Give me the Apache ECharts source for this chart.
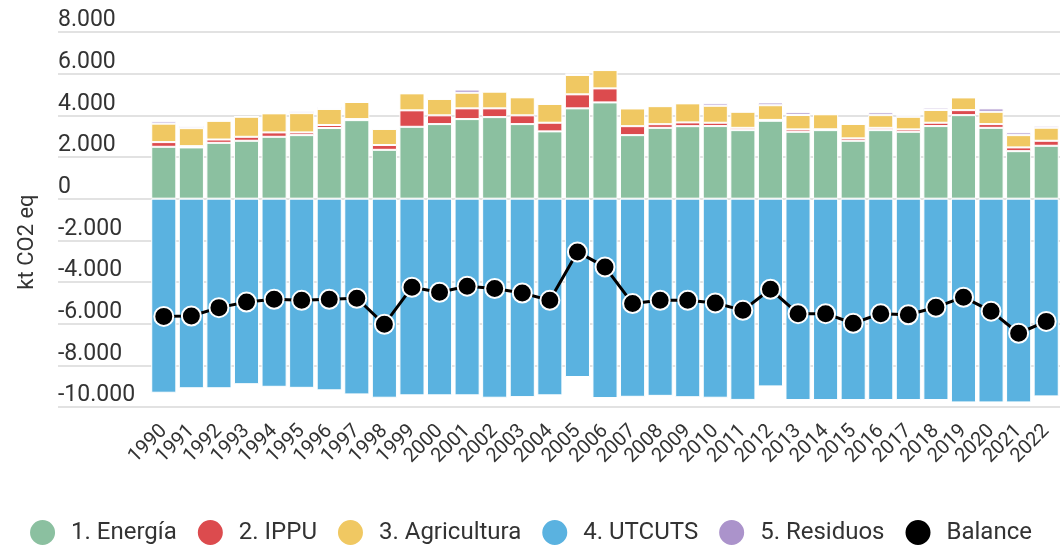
<!DOCTYPE html>
<html>
<head>
<meta charset="utf-8">
<script src="https://cdn.jsdelivr.net/npm/echarts@6/dist/echarts.min.js"></script>
<style>
html,body{margin:0;padding:0;background:#fff;}
#chart{width:1060px;height:550px;}
</style>
</head>
<body>
<div id="chart"></div>
<script>
const years = ['1990','1991','1992','1993','1994','1995','1996','1997','1998','1999','2000','2001','2002','2003','2004','2005','2006','2007','2008','2009','2010','2011','2012','2013','2014','2015','2016','2017','2018','2019','2020','2021','2022'];
const energia = [2490,2460,2680,2780,2970,3050,3390,3770,2345,3450,3580,3820,3915,3580,3230,4335,4620,3050,3400,3480,3485,3290,3740,3210,3290,2780,3290,3210,3485,4010,3400,2280,2540];
const ippu = [225,60,160,190,210,130,145,50,230,790,420,515,420,420,415,673,673,430,175,180,160,110,40,115,40,115,110,115,160,240,180,180,240];
const agricultura = [885,865,895,960,915,925,770,820,770,815,785,750,800,865,900,927,880,850,865,915,815,770,705,690,720,690,610,605,610,610,590,590,625];
const utcuts = [-9315,-9100,-9100,-8905,-9030,-9080,-9200,-9395,-9555,-9440,-9440,-9440,-9555,-9525,-9440,-8560,-9570,-9510,-9465,-9530,-9555,-9660,-9010,-9665,-9665,-9665,-9665,-9665,-9665,-9780,-9780,-9780,-9490];
const residuos = [110,100,30,30,30,95,95,30,30,30,65,150,30,30,30,80,30,30,30,30,115,30,130,130,30,30,130,80,110,30,160,130,95];
const balance = [-5650,-5630,-5230,-4960,-4830,-4880,-4830,-4780,-6030,-4250,-4490,-4200,-4310,-4530,-4880,-2555,-3275,-5035,-4875,-4875,-5005,-5360,-4350,-5520,-5520,-5980,-5520,-5570,-5210,-4730,-5400,-6460,-5890];

const yMin = -10000, yMax = 8000, yStep = 2000;
const FONT = 'Roboto';

function fmt(v){
  const s = Math.abs(v).toString().replace(/\B(?=(\d{3})+(?!\d))/g, '.');
  return (v < 0 ? '-' : '') + s;
}

const chart = echarts.init(document.getElementById('chart'), null, {renderer:'canvas'});
const barCommon = {
  type:'bar', stack:'total', xAxisIndex:1, yAxisIndex:1,
  barCategoryGap:'9%',
  emphasis:{disabled:true}
};
chart.setOption({
  animation:false,
  textStyle:{fontFamily:FONT},
  grid:[
    {left:58, right:0, top:32, height:375},
    {left:150, right:-3, top:32, height:375}
  ],
  xAxis:[
    {gridIndex:0, type:'value', show:false},
    {gridIndex:1, type:'category', data:years,
     axisLine:{show:false}, axisTick:{show:false},
     axisLabel:{rotate:45, fontSize:20, color:'#333', margin:21, fontFamily:FONT, interval:0}}
  ],
  yAxis:[
    {gridIndex:0, type:'value', min:yMin, max:yMax, interval:yStep,
     axisLine:{show:false}, axisTick:{show:false},
     splitLine:{show:true, lineStyle:{color:'#e2e2e2', width:2}},
     axisLabel:{inside:true, align:'left', verticalAlign:'bottom', margin:0, padding:0,
                fontSize:23, color:'#333', fontFamily:FONT, formatter:fmt}},
    {gridIndex:1, type:'value', min:yMin, max:yMax, interval:yStep, show:false, splitLine:{show:false}}
  ],
  legend:{
    top:513, left:'center', icon:'circle', itemWidth:27, itemHeight:27, itemGap:19,
    textStyle:{fontSize:24, color:'#333', fontFamily:FONT, padding:[0,0,0,10]},
    data:['1. Energía','2. IPPU','3. Agricultura','4. UTCUTS','5. Residuos','Balance']
  },
  graphic:[{
    type:'text', x:27, y:242, rotation:Math.PI/2,
    style:{text:'kt CO2 eq', fontSize:22, fill:'#333', fontFamily:FONT, align:'center', verticalAlign:'middle'}
  }],
  series:[
    Object.assign({}, barCommon, {name:'1. Energía', data:energia, itemStyle:{color:'#8bc0a0', borderColor:'#fff', borderWidth:1}}),
    Object.assign({}, barCommon, {name:'2. IPPU', data:ippu, itemStyle:{color:'#dc4b4e', borderColor:'#fff', borderWidth:1}}),
    Object.assign({}, barCommon, {name:'3. Agricultura', data:agricultura, itemStyle:{color:'#f0c862', borderColor:'#fff', borderWidth:1}}),
    Object.assign({}, barCommon, {name:'4. UTCUTS', data:utcuts, itemStyle:{color:'#5ab2e0', borderColor:'#fff', borderWidth:1}}),
    Object.assign({}, barCommon, {name:'5. Residuos', data:residuos, itemStyle:{color:'#ab93cb', borderColor:'#fff', borderWidth:1}}),
    {name:'Balance', type:'line', xAxisIndex:1, yAxisIndex:1, data:balance, z:5,
     symbol:'circle', symbolSize:19,
     lineStyle:{color:'#000', width:3},
     itemStyle:{color:'#000', borderColor:'#fff', borderWidth:2},
     emphasis:{disabled:true}}
  ]
});
</script>
</body>
</html>
